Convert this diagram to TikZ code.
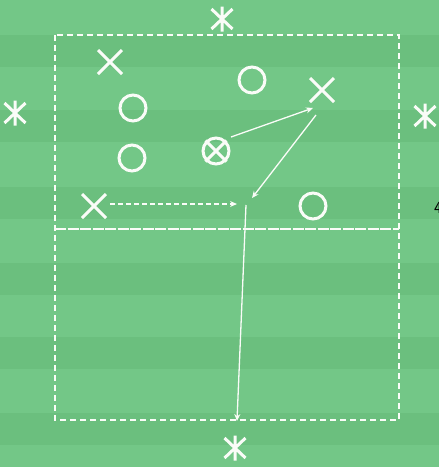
\documentclass[tikz,border=0pt]{standalone}
\usetikzlibrary{shapes.misc,arrows.meta}
\definecolor{fieldlight}{RGB}{115,199,135}
\definecolor{fielddark}{RGB}{107,191,126}
\definecolor{chalk}{RGB}{250,252,248}
\tikzset{
  ring/.style={circle,draw=chalk,line width=3pt,minimum size=26pt,inner sep=0pt},
  xmark/.style={cross out,draw=chalk,line width=3pt,minimum size=21pt,inner sep=0pt},
  starbox/.style={rectangle,minimum width=21pt,minimum height=20pt,inner sep=0pt,outer sep=0pt},
  starline/.style={draw=chalk,line width=3pt},
  pitchline/.style={draw=chalk,line width=1.4pt,dash pattern=on 6pt off 4pt},
  halfline/.style={draw=chalk,line width=1.4pt,dash pattern=on 11pt off 1.5pt},
  runarrow/.style={draw=chalk,line width=1.3pt,-{Stealth[length=7pt,width=6pt]}},
  passarrow/.style={draw=chalk,line width=1.3pt,dash pattern=on 5pt off 3pt,-{Stealth[length=7pt,width=6pt]}}
}
\begin{document}
\begin{tikzpicture}[x=1pt,y=-1pt]
\useasboundingbox (0,0) rectangle (439,467);
\clip (0,0) rectangle (439,467);
\fill[fieldlight] (0,0) rectangle (439,467);
\foreach \y in {35,110,187,263,337,413}{
  \fill[fielddark] (0,\y) rectangle (439,\y+32);
}
% pitch outline
\draw[pitchline] (55,35) rectangle (399,420);
\draw[halfline] (55,229) -- (399,229);
% asterisks
\foreach \n/\x/\y in {ta/222/19,la/15/113,ra/425/116,ba/235/448}{
  \node[starbox] (\n) at (\x,\y) {};
  \draw[starline] ([yshift=-12.5pt]\n.center) -- ([yshift=12.5pt]\n.center)
                  (\n.north west) -- (\n.south east)
                  (\n.north east) -- (\n.south west);
}
% crosses
\node[xmark] (x1) at (110,62) {};
\node[xmark] (x2) at (322,90) {};
\node[xmark] (x3) at (94,206) {};
% circles
\node[ring] (o1) at (133,108) {};
\node[ring] (o2) at (252,80) {};
\node[ring] (o3) at (132,158) {};
\node[ring] (o4) at (313,206) {};
% ball carrier
\node[ring] (cx) at (216,151) {};
\node[cross out,draw=chalk,line width=3pt,minimum size=18pt,inner sep=0pt] (cxx) at (cx) {};
% run / pass coordinates
\coordinate (ball) at (246,205);
\coordinate (goal) at (237,421);
% arrows
\draw[runarrow] ([shift={(15,-14)}]cx.center) -- ([shift={(-9,18)}]x2.center);
\draw[runarrow] ([shift={(-6,25)}]x2.center) -- ([shift={(6,-7)}]ball);
\draw[passarrow] ([shift={(16,-2)}]x3.center) -- ([shift={(-9,-1)}]ball);
\draw[runarrow] (ball) -- (goal);
% label cut by the right edge, as in the reference
\node[anchor=west,inner sep=0pt,font=\sffamily\fontsize{17}{17}\selectfont,text=black] (lbl) at (434,208) {4};
\end{tikzpicture}
\end{document}
